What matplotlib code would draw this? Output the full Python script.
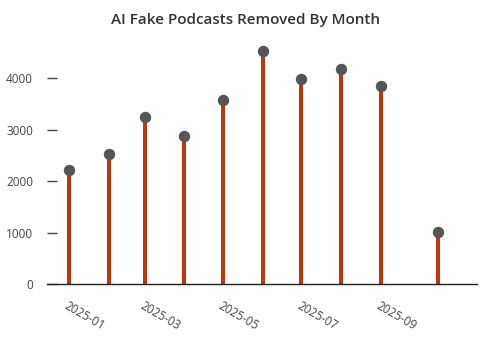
import matplotlib
matplotlib.use("Agg")
import matplotlib.pyplot as plt
import numpy as np

# data
months = ["2025-01-01", "2025-02-01", "2025-03-01", "2025-04-01", "2025-05-01",
          "2025-06-01", "2025-07-01", "2025-08-01", "2025-09-01", "2025-10-16"]
removed = [2210, 2530, 3245, 2870, 3570, 4530, 3980, 4185, 3860, 1020]
tick_months = ["2025-01", "2025-03", "2025-05", "2025-07", "2025-09"]

plt.rcParams['font.family'] = ['Open Sans', 'DejaVu Sans']

x = np.array(months, dtype="datetime64[D]")
ticks = np.array([m + "-01" for m in tick_months], dtype="datetime64[D]")

fig = plt.figure(figsize=(4.82, 3.38), dpi=100)
ax = fig.add_axes([47/482, 1 - 284/338, 430/482, 244/338])

ax.vlines(x, 0, removed, color="#BF360C", linewidth=2.9, zorder=2)
ax.plot(x, removed, "o", color="#555555", markersize=7.2, zorder=3)

ax.set_xlim(np.datetime64("2024-12-15"), np.datetime64("2025-11-15"))
ax.set_ylim(0, 4747)

ax.set_xticks(ticks)
ax.set_xticklabels(tick_months, rotation=-30, ha="left", va="top",
                   rotation_mode="anchor", fontsize=8.5, color="#444444")
ax.tick_params(axis="x", length=0, pad=11)
ax.set_yticks([0, 1000, 2000, 3000, 4000])
ax.tick_params(axis="y", direction="in", length=7, width=1, color="#444444",
               labelsize=8.5, labelcolor="#444444", pad=10)

for s in ["top", "right", "left"]:
    ax.spines[s].set_visible(False)
ax.spines["bottom"].set_color("#222222")
ax.spines["bottom"].set_linewidth(1.0)

fig.text(246/482, 1 - 20/338, "AI Fake Podcasts Removed By Month", ha="center",
         va="center", fontsize=11, fontweight="semibold", color="#333333")

fig.savefig("out.png", dpi=100)
